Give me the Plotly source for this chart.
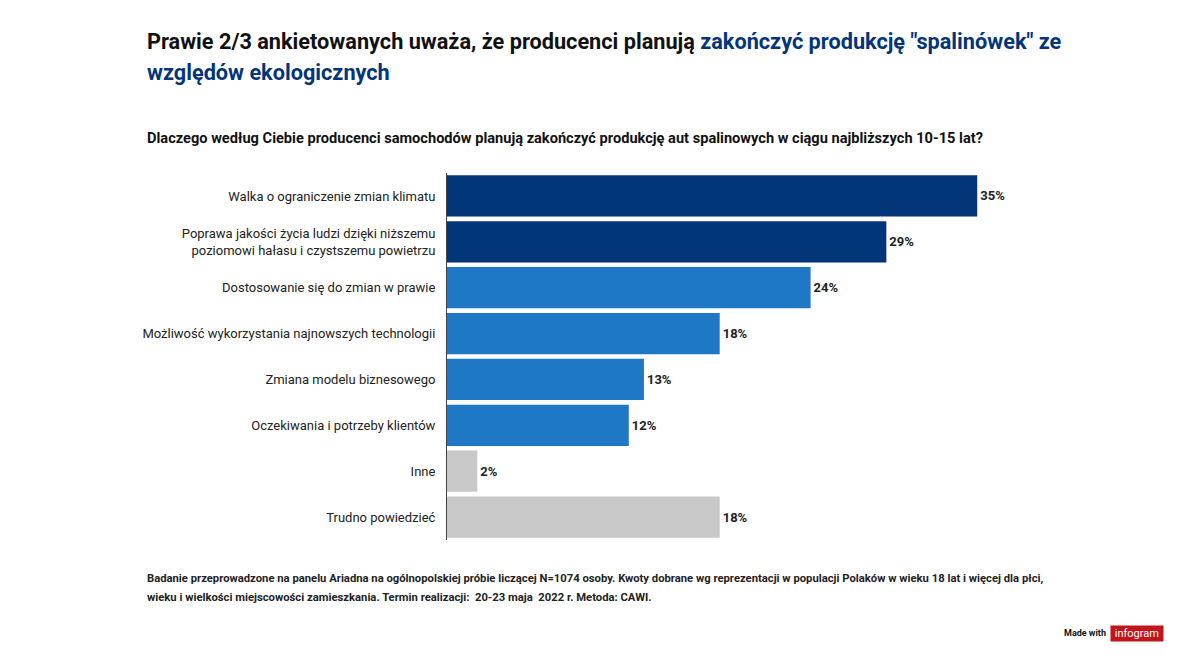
import plotly.graph_objects as go

categories = [
    "Walka o ograniczenie zmian klimatu",
    "Poprawa jakości życia ludzi dzięki niższemu<br>poziomowi hałasu i czystszemu powietrzu",
    "Dostosowanie się do zmian w prawie",
    "Możliwość wykorzystania najnowszych technologii",
    "Zmiana modelu biznesowego",
    "Oczekiwania i potrzeby klientów",
    "Inne",
    "Trudno powiedzieć",
]
values = [35, 29, 24, 18, 13, 12, 2, 18]
colors = ["#033579", "#033579", "#1f78c6", "#1f78c6", "#1f78c6", "#1f78c6", "#c8c8c8", "#c8c8c8"]

# page body has an 8px margin, so pixel targets are shifted by -8
OFF = 8
L, R, T, B = 447 - OFF, 147 + OFF, 173 - OFF, 118 + OFF

fig = go.Figure(go.Bar(
    y=categories, x=values, orientation="h",
    marker=dict(color=colors, line=dict(width=0)),
    text=[f"<b>{v}%</b>" for v in values], textposition="outside",
    textfont=dict(size=13, color="#222", family="Roboto"),
    cliponaxis=False,
))

fig.update_layout(
    width=1200, height=658,
    margin=dict(l=L, r=R, t=T, b=B),
    paper_bgcolor="white", plot_bgcolor="white",
    font=dict(family="Roboto", color="#222"),
    showlegend=False, bargap=0.1,
    xaxis=dict(range=[0, 40], visible=False),
    yaxis=dict(autorange="reversed", showline=True, linecolor="#444", linewidth=1,
               ticks="", ticklabelstandoff=8, tickfont=dict(size=13, color="#222")),
    annotations=[
        dict(x=145, y=42,
             text="<b>Prawie 2/3 ankietowanych uważa, że producenci planują <span style='color:#033579'>zakończyć produkcję \"spalinówek\" ze</span></b>",
             font=dict(size=21.7, color="#111")),
        dict(x=145, y=73, text="<b><span style='color:#033579'>względów ekologicznych</span></b>", font=dict(size=21.7)),
        dict(x=145, y=138, text="<b>Dlaczego według Ciebie producenci samochodów planują zakończyć produkcję aut spalinowych w ciągu najbliższych 10-15 lat?</b>",
             font=dict(size=14.6, color="#111")),
        dict(x=145, y=578, text="<b>Badanie przeprowadzone na panelu Ariadna na ogólnopolskiej próbie liczącej N=1074 osoby. Kwoty dobrane wg reprezentacji w populacji Polaków w wieku 18 lat i więcej dla płci,</b>",
             font=dict(size=11.25, color="#222")),
        dict(x=145, y=597, text="<b>wieku i wielkości miejscowości zamieszkania. Termin realizacji:  20-23 maja  2022 r. Metoda: CAWI.</b>",
             font=dict(size=11.25, color="#222")),
        dict(x=1062, y=633, text="<b>Made with</b>", font=dict(size=9, color="#111")),
        dict(x=1110, y=633, text=" infogram ", font=dict(size=11, color="white"), bgcolor="#c4141b"),
    ],
)
W = 1200 - L - R
H = 658 - T - B
for a in fig.layout.annotations:
    a.update(xref="paper", yref="paper", showarrow=False, xanchor="left", yanchor="middle")
    a.x = (a.x - OFF - L) / W
    a.y = (658 - B - (a.y - OFF)) / H

fig.write_html("out.html")
